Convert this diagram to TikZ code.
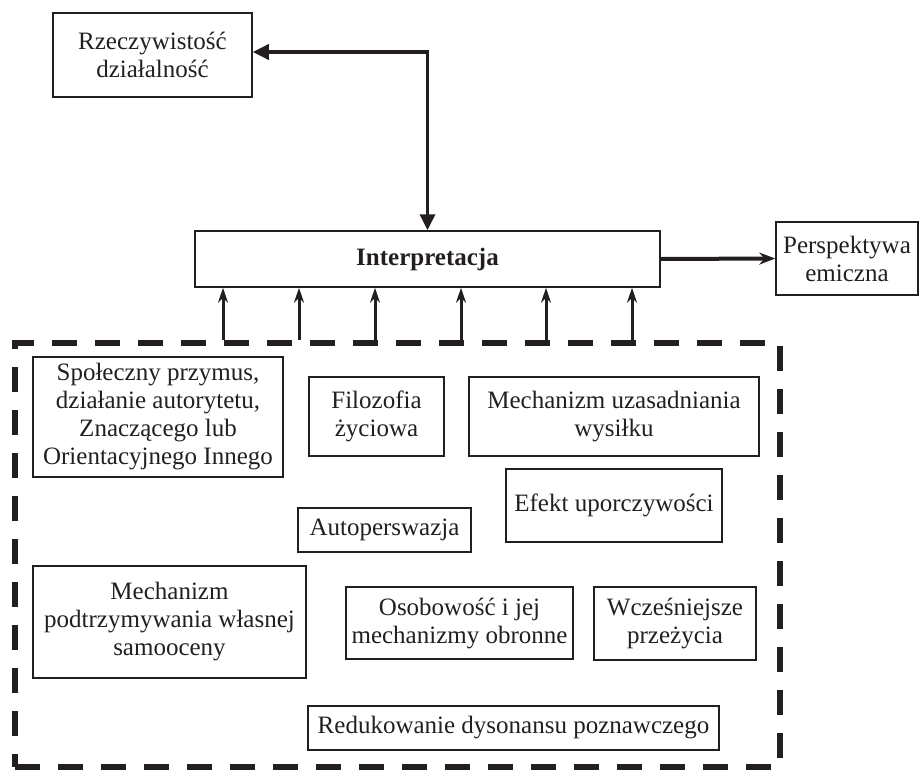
\documentclass[tikz,border=0pt]{standalone}
\usepackage{fontspec}
\setmainfont{Liberation Serif}
\usetikzlibrary{arrows.meta}
\definecolor{ink}{HTML}{231F20}

\begin{document}
\begin{tikzpicture}[
    x=1pt, y=-1pt,
    % Define styles
    box/.style={
        rectangle,
        draw=ink,
        line width=1.5pt,
        align=center,
        inner sep=0pt,
        text=ink,
        font=\fontsize{25}{28}\selectfont
    },
    frame/.style={
        rectangle,
        draw=ink,
        line width=6pt,
        dash pattern=on 25pt off 18pt,
        inner sep=0pt
    },
    biarrow/.style={
        {Triangle[length=16pt,width=15pt]}-{Triangle[length=16pt,width=15pt]},
        draw=ink,
        line width=3.5pt
    },
    outarrow/.style={
        -{Stealth[length=16pt,width=12pt]},
        draw=ink,
        line width=4pt
    },
    uparrow/.style={
        -{Stealth[length=15pt,width=10pt]},
        draw=ink,
        line width=3pt
    }
]

% Canvas
\useasboundingbox (0,0) rectangle (920,771);

% Top row
\node[box, minimum width=199pt, minimum height=84pt] (rzecz) at (152.5,55) {Rzeczywistość\\działalność};
\node[box, minimum width=465pt, minimum height=56pt, font=\fontsize{25}{28}\selectfont\bfseries] (interp) at (427.5,259) {Interpretacja};
\node[box, minimum width=142pt, minimum height=73pt] (persp) at (847,258.5) {Perspektywa\\emiczna};

% Dashed group of factors
\node[frame, minimum width=765pt, minimum height=424pt] (factors) at (397.5,555) {};

% Factors
\node[box, minimum width=250pt, minimum height=120pt] (spol) at (158,417) {Społeczny przymus,\\działanie autorytetu,\\Znaczącego lub\\Orientacyjnego Innego};
\node[box, minimum width=135pt, minimum height=79pt] (filo) at (376.5,416.5) {Filozofia\\życiowa};
\node[box, minimum width=290pt, minimum height=79pt] (mechuz) at (614,416.5) {Mechanizm uzasadniania\\wysiłku};
\node[box, minimum width=216pt, minimum height=73pt] (efekt) at (614,505.5) {Efekt uporczywości};
\node[box, minimum width=173pt, minimum height=44pt] (auto) at (384.5,530) {Autoperswazja};
\node[box, minimum width=273pt, minimum height=112pt] (mechpod) at (169.5,622) {Mechanizm\\podtrzymywania własnej\\samooceny};
\node[box, minimum width=227pt, minimum height=72pt] (osob) at (459.5,623) {Osobowość i jej\\mechanizmy obronne};
\node[box, minimum width=162pt, minimum height=73pt] (wczes) at (675,623.5) {Wcześniejsze\\przeżycia};
\node[box, minimum width=411pt, minimum height=44pt] (redu) at (513.5,728) {Redukowanie dysonansu poznawczego};

% Connectors
\draw[biarrow] ([yshift=3pt]rzecz.east) -| (interp.north);
\draw[outarrow] (interp.east) -- (persp.west);
\foreach \x in {223,299,375,461,546,632}
    \draw[uparrow] (\x,0 |- factors.north) -- (\x,0 |- interp.south);

\end{tikzpicture}
\end{document}
